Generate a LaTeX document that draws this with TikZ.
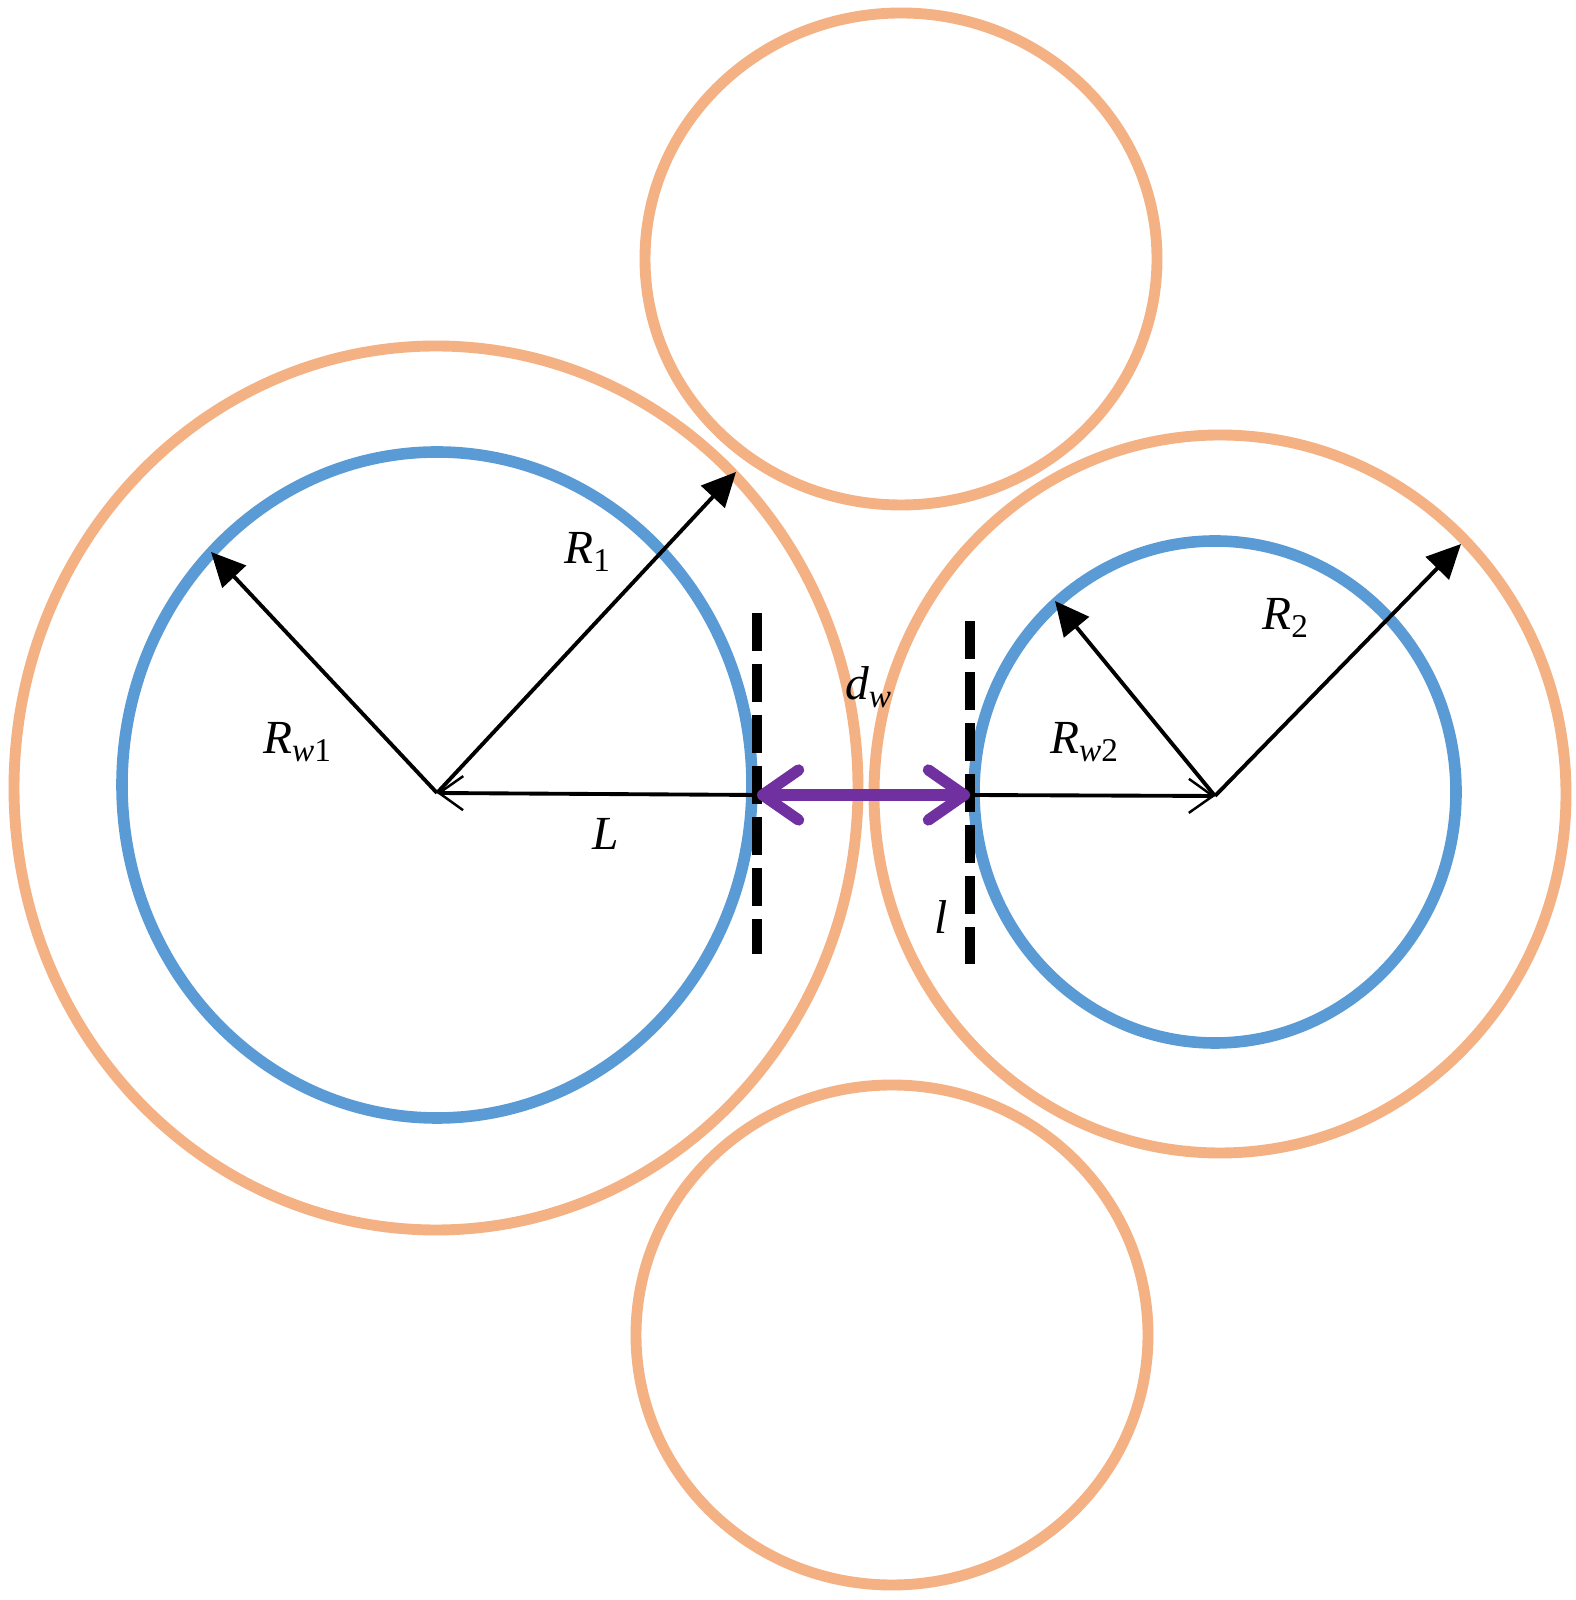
\documentclass[tikz,border=0pt]{standalone}
\usepackage{fontspec}
\setmainfont{Liberation Serif}
\usepackage{tikz}
\usetikzlibrary{arrows.meta}
\definecolor{ringorange}{RGB}{244,177,131}
\definecolor{wellblue}{RGB}{91,155,213}
\definecolor{gappurple}{RGB}{112,48,160}
\tikzstyle{ringline} = [draw=ringorange, line width=3.1pt]
\tikzstyle{wellline} = [draw=wellblue, line width=3.3pt]
\tikzstyle{radline} = [draw, line width=1.1pt, -{Triangle[length=3.4mm,width=3.2mm]}]
\tikzstyle{lenline} = [draw, line width=1.1pt, -{Straight Barb[length=2.4mm,width=3.4mm,line width=0.7pt]}]
\tikzstyle{cutline} = [draw, line width=2.8pt, dash pattern=on 0.38cm off 0.13cm]
\tikzstyle{gapline} = [draw=gappurple, line width=3.2pt, {Straight Barb[length=3.6mm,width=5mm,round]}-{Straight Barb[length=3.6mm,width=5mm,round]}]

\begin{document}
\begin{tikzpicture}[x=0.01cm, y=0.01cm, every node/.style={font=\fontsize{13.5}{15}\selectfont}]
    \tikzstyle{every node}+=[inner sep=0pt]
    \useasboundingbox (0,0) rectangle (1575,1600);
        % centres and end points
        \coordinate (c1) at (437,807);
        \coordinate (c2) at (1215,804);
        \coordinate (t1) at (211,1048);
        \coordinate (s1) at (736,1128);
        \coordinate (t2) at (1055,999);
        \coordinate (s2) at (1461,1056);
        \coordinate (g1) at (757,805);
        \coordinate (g2) at (970,805);
        \coordinate (d1a) at (757,987);
        \coordinate (d1b) at (757,646);
        \coordinate (d2a) at (970,979);
        \coordinate (d2b) at (970,636);
        % rings
        \draw [ringline] (436,812) ellipse (422 and 442);
        \draw [ringline] (1220,806) ellipse (346 and 359);
        \draw [ringline] (901,1341) ellipse (256 and 246);
        \draw [ringline] (892,265) ellipse (256 and 250);
        \draw [wellline] (437,815) ellipse (315 and 333);
        \draw [wellline] (1215,808) ellipse (241 and 251);
        % radii
        \path [radline] (c1) -- (t1);
        \path [radline] (c1) -- (s1);
        \path [radline] (c2) -- (t2);
        \path [radline] (c2) -- (s2);
        \path [lenline] (g1) -- (c1);
        \path [lenline] (g2) -- (c2);
        \path [cutline] (d1a) -- (d1b);
        \path [cutline] (d2a) -- (d2b);
        \path [gapline] (g1) -- (g2);
        % labels
        \node (lR1) at (588,1048) {\textit{R}\textsubscript{1}};
        \node (lRw1) at (298,858) {\textit{R}\textsubscript{\textit{w}1}};
        \node (lL) at (606,766) {\textit{L}};
        \node (ldw) at (869,913) {\textit{d}\textsubscript{\textit{w}}};
        \node (lRw2) at (1085,858) {\textit{R}\textsubscript{\textit{w}2}};
        \node (lR2) at (1286,982) {\textit{R}\textsubscript{2}};
        \node (ll) at (941,683) {\textit{l}};
\end{tikzpicture}
\end{document}
